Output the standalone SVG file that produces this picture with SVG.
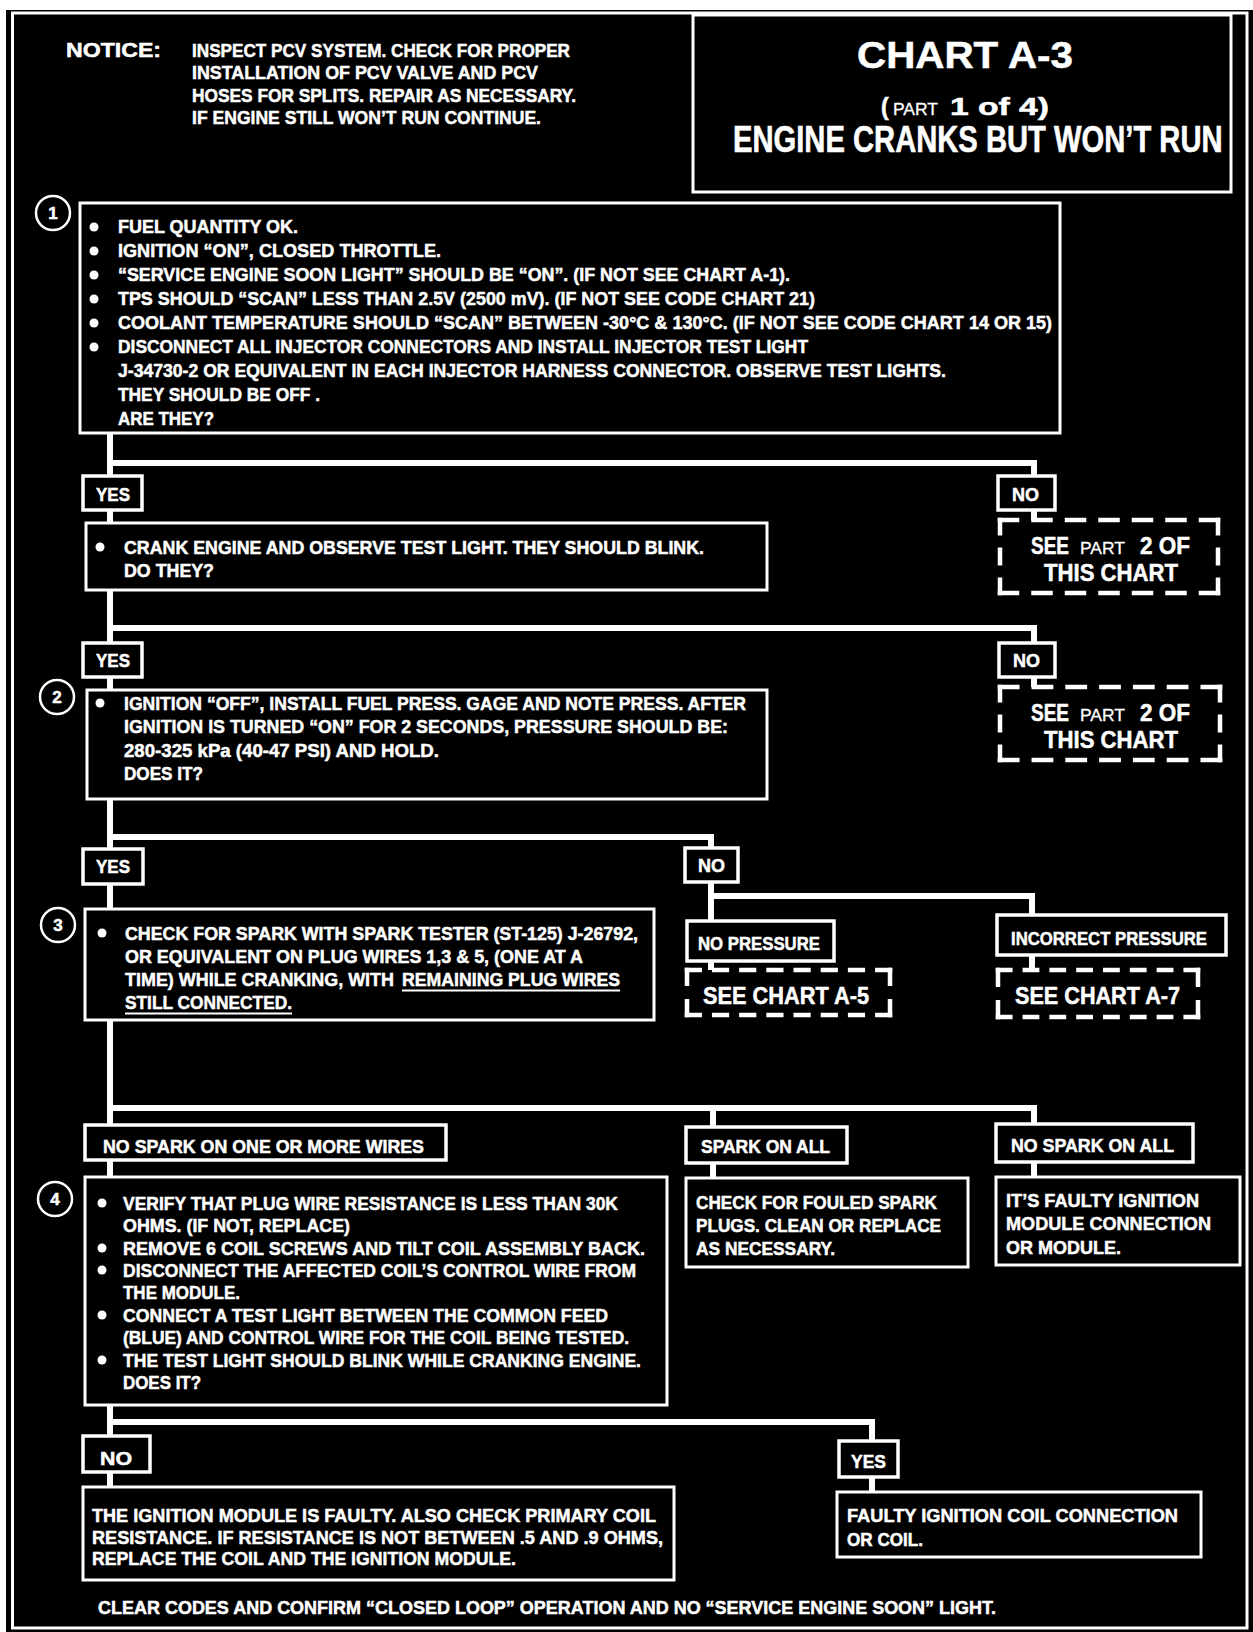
<svg xmlns="http://www.w3.org/2000/svg" width="1253" height="1632" viewBox="0 0 1253 1632">
<style>
.box{fill:#000;stroke:#fff;stroke-width:3}
.lbl{fill:#000;stroke:#fff;stroke-width:3.5}
.dfill{fill:#000}
.de{fill:none;stroke:#fff;stroke-width:4.5}
.conn{fill:none;stroke:#fff;stroke-width:6;stroke-linejoin:miter}
.t{font-family:"Liberation Sans",Arial,sans-serif;font-weight:bold;fill:#fff;stroke:#fff;stroke-width:0.5;font-size:19px}
.big{font-size:24px}
.num{font-size:17px;text-anchor:middle}
.sm{font-size:17px;font-weight:normal;stroke-width:0.3}
.bul{fill:#fff}
.num-c{fill:#000;stroke:#fff;stroke-width:2.5}
</style>
<rect x="0" y="0" width="1253" height="1632" fill="#fff"/>
<rect x="6" y="10" width="1247" height="1622" fill="#000"/>
<rect x="12.5" y="13" width="1234.5" height="1615" fill="none" stroke="#fff" stroke-width="3"/>

<g id="notice">
<text class="t" x="66" y="57" textLength="95" lengthAdjust="spacingAndGlyphs" style="font-size:20px">NOTICE:</text>
<text class="t" x="192" y="56.5" textLength="378" lengthAdjust="spacingAndGlyphs">INSPECT PCV SYSTEM.  CHECK FOR PROPER</text>
<text class="t" x="192" y="79" textLength="346" lengthAdjust="spacingAndGlyphs">INSTALLATION OF PCV VALVE AND PCV</text>
<text class="t" x="192" y="101.5" textLength="384" lengthAdjust="spacingAndGlyphs">HOSES FOR SPLITS.  REPAIR AS NECESSARY.</text>
<text class="t" x="192" y="124" textLength="349" lengthAdjust="spacingAndGlyphs">IF ENGINE STILL WON’T RUN CONTINUE.</text>
</g>

<g id="title">
<rect class="box" x="693" y="15" width="538" height="177"/>
<text class="t" x="857" y="68" textLength="216" lengthAdjust="spacingAndGlyphs" style="font-size:37px">CHART A-3</text>
<text class="t" x="881" y="115" style="font-size:23px">(</text>
<text class="t sm" x="893" y="115" textLength="45" lengthAdjust="spacingAndGlyphs">PART</text>
<text class="t" x="950" y="115" textLength="99" lengthAdjust="spacingAndGlyphs" style="font-size:24px">1 of 4)</text>
<text class="t" transform="matrix(0.789 0 0 1 733 152)" x="0" y="0" style="font-size:37px;stroke-width:0.6">ENGINE CRANKS BUT WON’T RUN</text>
</g>

<g id="connectors" class="conn">
<path d="M110 433 V1487"/>
<path d="M110 463 H1034 V520"/>
<path d="M110 628 H1034 V687"/>
<path d="M110 837 H711 V970"/>
<path d="M711 896 H1032 V970"/>
<path d="M110 1108 H1034 V1177"/>
<path d="M713 1108 V1178"/>
<path d="M110 1422 H872 V1492"/>
</g>

<g id="step1">
<circle class="num-c" cx="53" cy="213" r="17"/>
<text class="t num" x="53" y="219">1</text>
<rect class="box" x="80" y="203" width="980" height="230"/>
<circle class="bul" cx="94" cy="227" r="4.5"/>
<circle class="bul" cx="94" cy="251" r="4.5"/>
<circle class="bul" cx="94" cy="275" r="4.5"/>
<circle class="bul" cx="94" cy="299" r="4.5"/>
<circle class="bul" cx="94" cy="323" r="4.5"/>
<circle class="bul" cx="94" cy="347" r="4.5"/>
<text class="t" x="118" y="233" textLength="180" lengthAdjust="spacingAndGlyphs">FUEL QUANTITY OK.</text>
<text class="t" x="118" y="257" textLength="323" lengthAdjust="spacingAndGlyphs">IGNITION “ON”,  CLOSED THROTTLE.</text>
<text class="t" x="118" y="281" textLength="672" lengthAdjust="spacingAndGlyphs">“SERVICE ENGINE SOON LIGHT” SHOULD BE “ON”.  (IF NOT SEE CHART A-1).</text>
<text class="t" x="118" y="305" textLength="697" lengthAdjust="spacingAndGlyphs">TPS SHOULD “SCAN” LESS THAN 2.5V (2500 mV).  (IF NOT SEE CODE CHART 21)</text>
<text class="t" x="118" y="329" textLength="934" lengthAdjust="spacingAndGlyphs">COOLANT TEMPERATURE SHOULD  “SCAN” BETWEEN -30°C  &amp; 130°C. (IF NOT SEE CODE  CHART 14 OR 15)</text>
<text class="t" x="118" y="353" textLength="690" lengthAdjust="spacingAndGlyphs">DISCONNECT ALL INJECTOR CONNECTORS AND INSTALL INJECTOR TEST LIGHT</text>
<text class="t" x="118" y="377" textLength="828" lengthAdjust="spacingAndGlyphs">J-34730-2 OR EQUIVALENT IN EACH INJECTOR HARNESS CONNECTOR.  OBSERVE TEST LIGHTS.</text>
<text class="t" x="118" y="401" textLength="202" lengthAdjust="spacingAndGlyphs">THEY SHOULD BE OFF .</text>
<text class="t" x="118" y="425" textLength="96" lengthAdjust="spacingAndGlyphs">ARE THEY?</text>
</g>

<g id="yes1">
<rect class="lbl" x="83" y="476" width="59" height="34"/>
<text class="t" x="96" y="500.5" textLength="34" lengthAdjust="spacingAndGlyphs">YES</text>
</g>
<g id="no1">
<rect class="lbl" x="998" y="476" width="57" height="34"/>
<text class="t" x="1012" y="500.5" textLength="27" lengthAdjust="spacingAndGlyphs">NO</text>
</g>
<g id="seepart2a">
<rect class="dfill" x="1000" y="520" width="218" height="73"/>
<path class="de" d="M997.75 520 H1220.25 M997.75 593 H1220.25" stroke-dasharray="21.5 12"/>
<path class="de" d="M1000 517.75 V595.25 M1218 517.75 V595.25" stroke-dasharray="17.83 12"/>
<text class="t big" x="1031" y="554" textLength="38" lengthAdjust="spacingAndGlyphs">SEE</text>
<text class="t sm" x="1080" y="554" textLength="45" lengthAdjust="spacingAndGlyphs">PART</text>
<text class="t big" x="1140" y="554" textLength="50" lengthAdjust="spacingAndGlyphs">2 OF</text>
<text class="t big" x="1044" y="581" textLength="134" lengthAdjust="spacingAndGlyphs">THIS CHART</text>
</g>

<g id="crank">
<rect class="box" x="86" y="523" width="681" height="67"/>
<circle class="bul" cx="100" cy="547" r="4.5"/>
<text class="t" x="124" y="553.5" textLength="580" lengthAdjust="spacingAndGlyphs">CRANK ENGINE AND OBSERVE TEST LIGHT.  THEY SHOULD BLINK.</text>
<text class="t" x="124" y="576.5" textLength="90" lengthAdjust="spacingAndGlyphs">DO THEY?</text>
</g>

<g id="yes2">
<rect class="lbl" x="83" y="643" width="59" height="34"/>
<text class="t" x="96" y="667" textLength="34" lengthAdjust="spacingAndGlyphs">YES</text>
</g>
<g id="no2">
<rect class="lbl" x="999" y="643" width="56" height="34"/>
<text class="t" x="1013" y="667" textLength="27" lengthAdjust="spacingAndGlyphs">NO</text>
</g>
<g id="seepart2b">
<rect class="dfill" x="1000" y="687" width="220" height="73"/>
<path class="de" d="M997.75 687 H1222.25 M997.75 760 H1222.25" stroke-dasharray="21.79 12"/>
<path class="de" d="M1000 684.75 V762.25 M1220 684.75 V762.25" stroke-dasharray="17.83 12"/>
<text class="t big" x="1031" y="721" textLength="38" lengthAdjust="spacingAndGlyphs">SEE</text>
<text class="t sm" x="1080" y="721" textLength="45" lengthAdjust="spacingAndGlyphs">PART</text>
<text class="t big" x="1140" y="721" textLength="50" lengthAdjust="spacingAndGlyphs">2 OF</text>
<text class="t big" x="1044" y="748" textLength="134" lengthAdjust="spacingAndGlyphs">THIS CHART</text>
</g>

<g id="step2">
<circle class="num-c" cx="57" cy="697" r="17"/>
<text class="t num" x="57" y="703">2</text>
<rect class="box" x="87" y="690" width="680" height="109"/>
<circle class="bul" cx="100" cy="703" r="4.5"/>
<text class="t" x="124" y="709.5" textLength="622" lengthAdjust="spacingAndGlyphs">IGNITION “OFF”, INSTALL FUEL PRESS. GAGE AND NOTE PRESS. AFTER</text>
<text class="t" x="124" y="733" textLength="604" lengthAdjust="spacingAndGlyphs">IGNITION IS TURNED “ON” FOR 2 SECONDS,  PRESSURE SHOULD BE:</text>
<text class="t" x="124" y="756.5" textLength="315" lengthAdjust="spacingAndGlyphs">280-325 kPa (40-47 PSI) AND HOLD.</text>
<text class="t" x="124" y="780" textLength="79" lengthAdjust="spacingAndGlyphs">DOES IT?</text>
</g>

<g id="yes3">
<rect class="lbl" x="83" y="849" width="60" height="35"/>
<text class="t" x="96" y="873" textLength="34" lengthAdjust="spacingAndGlyphs">YES</text>
</g>
<g id="no3">
<rect class="lbl" x="685" y="848" width="53" height="34"/>
<text class="t" x="698" y="871.5" textLength="27" lengthAdjust="spacingAndGlyphs">NO</text>
</g>
<g id="nopressure">
<rect class="lbl" x="687" y="921" width="147" height="40"/>
<text class="t" x="698" y="949.5" textLength="122" lengthAdjust="spacingAndGlyphs">NO PRESSURE</text>
</g>
<g id="incorrect">
<rect class="lbl" x="997" y="915" width="229" height="40"/>
<text class="t" x="1011" y="944.5" textLength="196" lengthAdjust="spacingAndGlyphs">INCORRECT PRESSURE</text>
</g>
<g id="a5">
<rect class="dfill" x="687" y="970" width="203" height="45"/>
<path class="de" d="M684.75 970 H892.25 M684.75 1015 H892.25" stroke-dasharray="17.19 10"/>
<path class="de" d="M687 967.75 V1017.25 M890 967.75 V1017.25" stroke-dasharray="18.25 13"/>
<text class="t big" x="703" y="1003.5" textLength="166" lengthAdjust="spacingAndGlyphs">SEE CHART A-5</text>
</g>
<g id="a7">
<rect class="dfill" x="998" y="970" width="200" height="47"/>
<path class="de" d="M995.75 970 H1200.25 M995.75 1017 H1200.25" stroke-dasharray="16.81 10"/>
<path class="de" d="M998 967.75 V1019.25 M1198 967.75 V1019.25" stroke-dasharray="19.25 13"/>
<text class="t big" x="1015" y="1003.5" textLength="165" lengthAdjust="spacingAndGlyphs">SEE CHART A-7</text>
</g>

<g id="step3">
<circle class="num-c" cx="58" cy="925" r="17"/>
<text class="t num" x="58" y="931">3</text>
<rect class="box" x="85" y="909" width="569" height="111"/>
<circle class="bul" cx="102" cy="933" r="4.5"/>
<text class="t" x="125" y="939.5" textLength="513" lengthAdjust="spacingAndGlyphs">CHECK FOR SPARK WITH SPARK TESTER  (ST-125)  J-26792,</text>
<text class="t" x="125" y="962.5" textLength="458" lengthAdjust="spacingAndGlyphs">OR EQUIVALENT ON PLUG WIRES 1,3 &amp; 5, (ONE AT A</text>
<text class="t" x="125" y="985.5" textLength="269" lengthAdjust="spacingAndGlyphs">TIME) WHILE CRANKING, WITH</text>
<text class="t" x="402" y="985.5" textLength="218" lengthAdjust="spacingAndGlyphs">REMAINING PLUG WIRES</text>
<text class="t" x="125" y="1008.5" textLength="167" lengthAdjust="spacingAndGlyphs">STILL CONNECTED.</text>
<line x1="402" y1="990.5" x2="620" y2="990.5" stroke="#fff" stroke-width="2"/>
<line x1="125" y1="1013.5" x2="292" y2="1013.5" stroke="#fff" stroke-width="2"/>
</g>

<g id="nosparkone">
<rect class="lbl" x="85" y="1125" width="361" height="35"/>
<text class="t" x="103" y="1153" textLength="321" lengthAdjust="spacingAndGlyphs">NO SPARK ON ONE OR MORE WIRES</text>
</g>
<g id="sparkall">
<rect class="lbl" x="686" y="1127" width="161" height="36"/>
<text class="t" x="701" y="1153" textLength="129" lengthAdjust="spacingAndGlyphs">SPARK ON ALL</text>
</g>
<g id="nosparkall">
<rect class="lbl" x="996" y="1124" width="197" height="38"/>
<text class="t" x="1011" y="1152" textLength="163" lengthAdjust="spacingAndGlyphs">NO SPARK ON ALL</text>
</g>

<g id="step4">
<circle class="num-c" cx="55" cy="1199" r="17"/>
<text class="t num" x="55" y="1205">4</text>
<rect class="box" x="85" y="1177" width="582" height="228"/>
<circle class="bul" cx="102" cy="1203" r="4.5"/>
<circle class="bul" cx="102" cy="1248" r="4.5"/>
<circle class="bul" cx="102" cy="1270" r="4.5"/>
<circle class="bul" cx="102" cy="1315" r="4.5"/>
<circle class="bul" cx="102" cy="1360" r="4.5"/>
<text class="t" x="123" y="1209.5" textLength="495" lengthAdjust="spacingAndGlyphs">VERIFY THAT PLUG WIRE RESISTANCE IS LESS THAN 30K</text>
<text class="t" x="123" y="1232" textLength="227" lengthAdjust="spacingAndGlyphs">OHMS. (IF NOT, REPLACE)</text>
<text class="t" x="123" y="1254.5" textLength="522" lengthAdjust="spacingAndGlyphs">REMOVE 6 COIL SCREWS AND TILT COIL ASSEMBLY BACK.</text>
<text class="t" x="123" y="1276.5" textLength="513" lengthAdjust="spacingAndGlyphs">DISCONNECT THE AFFECTED COIL’S CONTROL WIRE FROM</text>
<text class="t" x="123" y="1299" textLength="117" lengthAdjust="spacingAndGlyphs">THE MODULE.</text>
<text class="t" x="123" y="1321.5" textLength="485" lengthAdjust="spacingAndGlyphs">CONNECT A TEST LIGHT BETWEEN THE COMMON FEED</text>
<text class="t" x="123" y="1344" textLength="506" lengthAdjust="spacingAndGlyphs">(BLUE) AND CONTROL WIRE FOR THE COIL BEING TESTED.</text>
<text class="t" x="123" y="1366.5" textLength="518" lengthAdjust="spacingAndGlyphs">THE TEST LIGHT SHOULD BLINK WHILE CRANKING ENGINE.</text>
<text class="t" x="123" y="1389" textLength="78" lengthAdjust="spacingAndGlyphs">DOES IT?</text>
</g>

<g id="fouled">
<rect class="box" x="686" y="1178" width="282" height="89"/>
<text class="t" x="696" y="1208.5" textLength="241" lengthAdjust="spacingAndGlyphs">CHECK FOR FOULED SPARK</text>
<text class="t" x="696" y="1231.5" textLength="245" lengthAdjust="spacingAndGlyphs">PLUGS.  CLEAN OR REPLACE</text>
<text class="t" x="696" y="1254.5" textLength="139" lengthAdjust="spacingAndGlyphs">AS NECESSARY.</text>
</g>
<g id="faultymodule">
<rect class="box" x="996" y="1177" width="244" height="88"/>
<text class="t" x="1006" y="1206.5" textLength="193" lengthAdjust="spacingAndGlyphs">IT’S FAULTY IGNITION</text>
<text class="t" x="1006" y="1229.5" textLength="205" lengthAdjust="spacingAndGlyphs">MODULE CONNECTION</text>
<text class="t" x="1006" y="1253.5" textLength="115" lengthAdjust="spacingAndGlyphs">OR MODULE.</text>
</g>

<g id="no4">
<rect class="lbl" x="83" y="1436" width="67" height="36"/>
<text class="t" x="100" y="1465" textLength="32" lengthAdjust="spacingAndGlyphs">NO</text>
</g>
<g id="yes4">
<rect class="lbl" x="839" y="1441" width="59" height="36"/>
<text class="t" x="851" y="1467.5" textLength="35" lengthAdjust="spacingAndGlyphs">YES</text>
</g>
<g id="modulefaulty">
<rect class="box" x="83" y="1487" width="591" height="93"/>
<text class="t" x="92" y="1521.5" textLength="564" lengthAdjust="spacingAndGlyphs">THE IGNITION MODULE IS FAULTY.  ALSO CHECK PRIMARY COIL</text>
<text class="t" x="92" y="1543.5" textLength="571" lengthAdjust="spacingAndGlyphs">RESISTANCE.  IF RESISTANCE IS NOT BETWEEN .5 AND .9 OHMS,</text>
<text class="t" x="92" y="1565" textLength="424" lengthAdjust="spacingAndGlyphs">REPLACE THE COIL AND THE IGNITION MODULE.</text>
</g>
<g id="coilfaulty">
<rect class="box" x="837" y="1492" width="364" height="65"/>
<text class="t" x="847" y="1521.5" textLength="331" lengthAdjust="spacingAndGlyphs">FAULTY IGNITION COIL CONNECTION</text>
<text class="t" x="847" y="1546" textLength="76" lengthAdjust="spacingAndGlyphs">OR COIL.</text>
</g>

<g id="footer">
<text class="t" x="98" y="1613.5" textLength="898" lengthAdjust="spacingAndGlyphs">CLEAR CODES AND CONFIRM “CLOSED LOOP”  OPERATION AND NO “SERVICE ENGINE SOON” LIGHT.</text>
</g>
</svg>
